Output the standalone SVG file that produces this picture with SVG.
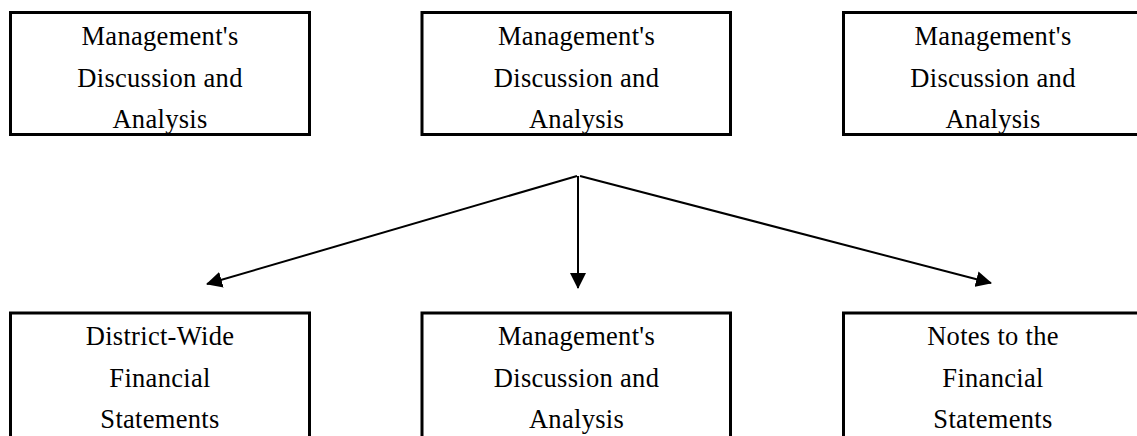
<svg xmlns="http://www.w3.org/2000/svg" width="1137" height="436" viewBox="0 0 1137 436">
<style>
.box{fill:#fff;stroke:#000;stroke-width:3}
.t{font-family:"Liberation Serif","Times New Roman",serif;font-size:26.5px;fill:#000;text-anchor:middle;letter-spacing:0.3px}
.c{stroke:#000;stroke-width:2;fill:none}
</style>
<defs>
<marker id="ah" markerWidth="16" markerHeight="16" viewBox="0 0 16 16" refX="15" refY="8" orient="auto" markerUnits="userSpaceOnUse">
<path d="M0,0 L16,8 L0,16 Z" fill="#000"/>
</marker>
</defs>
<rect width="1137" height="436" fill="#fff"/>
<g id="n1">
<rect class="box" x="10.5" y="12.5" width="299" height="122"/>
<text class="t" x="160" y="45">Management's</text>
<text class="t" x="160" y="87">Discussion and</text>
<text class="t" x="160" y="128">Analysis</text>
</g>
<g id="n2">
<rect class="box" x="422" y="12.5" width="308.5" height="122"/>
<text class="t" x="576.5" y="45">Management's</text>
<text class="t" x="576.5" y="87">Discussion and</text>
<text class="t" x="576.5" y="128">Analysis</text>
</g>
<g id="n3">
<rect class="box" x="843.5" y="12.5" width="299" height="122"/>
<text class="t" x="993" y="45">Management's</text>
<text class="t" x="993" y="87">Discussion and</text>
<text class="t" x="993" y="128">Analysis</text>
</g>
<g id="n4">
<rect class="box" x="10.5" y="313" width="299" height="140"/>
<text class="t" x="160" y="345">District-Wide</text>
<text class="t" x="160" y="387">Financial</text>
<text class="t" x="160" y="428">Statements</text>
</g>
<g id="n5">
<rect class="box" x="422" y="313" width="308.5" height="140"/>
<text class="t" x="576.5" y="345">Management's</text>
<text class="t" x="576.5" y="387">Discussion and</text>
<text class="t" x="576.5" y="428">Analysis</text>
</g>
<g id="n6">
<rect class="box" x="843.5" y="313" width="299" height="140"/>
<text class="t" x="993" y="345">Notes to the</text>
<text class="t" x="993" y="387">Financial</text>
<text class="t" x="993" y="428">Statements</text>
</g>
<g id="connectors">
<line class="c" x1="577" y1="176" x2="207" y2="284" marker-end="url(#ah)"/>
<line class="c" x1="578" y1="176" x2="578" y2="288" marker-end="url(#ah)"/>
<line class="c" x1="580" y1="176" x2="991" y2="283" marker-end="url(#ah)"/>
</g>
</svg>
